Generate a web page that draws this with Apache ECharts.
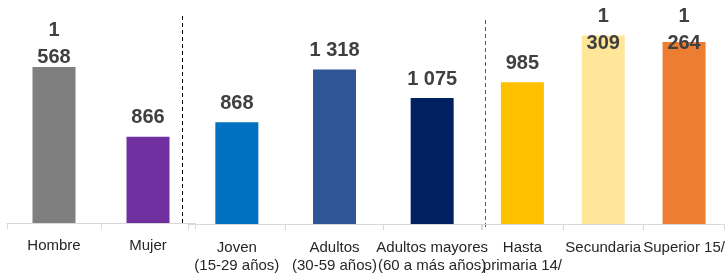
<!DOCTYPE html>
<html>
<head>
<meta charset="utf-8">
<script src="https://cdn.jsdelivr.net/npm/echarts@6/dist/echarts.min.js"></script>
<style>
  html, body { margin: 0; padding: 0; background: #fff; }
  #chart { width: 727px; height: 275px; }
</style>
</head>
<body>
<div id="chart"></div>
<script>
// data
var sexoCats = ['Hombre', 'Mujer'];
var sexoVals = [1568, 866];
var edadCats = ['Joven\n(15-29 años)', 'Adultos\n(30-59 años)', 'Adultos mayores\n(60 a más años)'];
var edadVals = [868, 1318, 1075];
var eduCats = ['Hasta\nprimaria 14/', 'Secundaria', 'Superior 15/'];
var eduVals = [985, 1309, 1264];

var sexoColors = ['#7f7f7f', '#7030a0'];
var edadColors = ['#0070c0', '#2f5597', '#002060'];
var eduColors = ['#ffc000', '#ffe699', '#ed7d31'];

// labels that Excel wrapped onto two lines (value -> distance above bar)
var wrapped = { 1568: -4, 1309: -21, 1264: -15 };

function fmt(v) {
  var s = String(v);
  if (v >= 1000) s = s.slice(0, s.length - 3) + (wrapped[v] !== undefined ? '\n' : ' ') + s.slice(-3);
  return s;
}

function items(vals, colors) {
  return vals.map(function (v, i) {
    var it = { value: v, itemStyle: { color: colors[i] } };
    if (wrapped[v] !== undefined) it.label = { distance: wrapped[v], lineHeight: 27 };
    return it;
  });
}

function xAx(idx, cats, margin) {
  return {
    type: 'category', gridIndex: idx, data: cats,
    axisLine: { lineStyle: { color: '#d9d9d9', width: 1 } },
    axisTick: { show: true, length: 6, lineStyle: { color: '#d9d9d9' } },
    axisLabel: { color: '#262626', fontSize: 15, fontFamily: 'Liberation Sans', lineHeight: 18, margin: margin, interval: 0 }
  };
}
function yAx(idx, max) {
  return { type: 'value', gridIndex: idx, min: 0, max: max, show: false, splitLine: { show: false } };
}
function bar(idx, vals, colors) {
  return {
    type: 'bar', xAxisIndex: idx, yAxisIndex: idx, barWidth: 43,
    data: items(vals, colors),
    label: {
      show: true, position: 'top', distance: 9,
      color: '#404040', fontWeight: 'bold', fontSize: 20, fontFamily: 'Liberation Sans', lineHeight: 20,
      formatter: function (p) { return fmt(p.value); }
    }
  };
}

var chart = echarts.init(document.getElementById('chart'));
chart.setOption({
  animation: false,
  grid: [
    { left: 7, right: 532, top: 24, bottom: 52 },
    { left: 188, right: 246, top: 13, bottom: 46 },
    { left: 482, right: -3, top: 8, bottom: 46 }
  ],
  xAxis: [xAx(0, sexoCats, 14), xAx(1, edadCats, 15), xAx(2, eduCats, 15)],
  yAxis: [yAx(0, 2000), yAx(1, 1800), yAx(2, 1500)],
  series: [bar(0, sexoVals, sexoColors), bar(1, edadVals, edadColors), bar(2, eduVals, eduColors)],
  graphic: [
    { type: 'line', shape: { x1: 182.5, y1: 16, x2: 182.5, y2: 223 }, style: { stroke: '#000', lineWidth: 1, lineDash: [4, 3] } },
    { type: 'line', shape: { x1: 485.5, y1: 20, x2: 485.5, y2: 229 }, style: { stroke: '#595959', lineWidth: 1, lineDash: [4, 3] } }
  ]
});
</script>
</body>
</html>
